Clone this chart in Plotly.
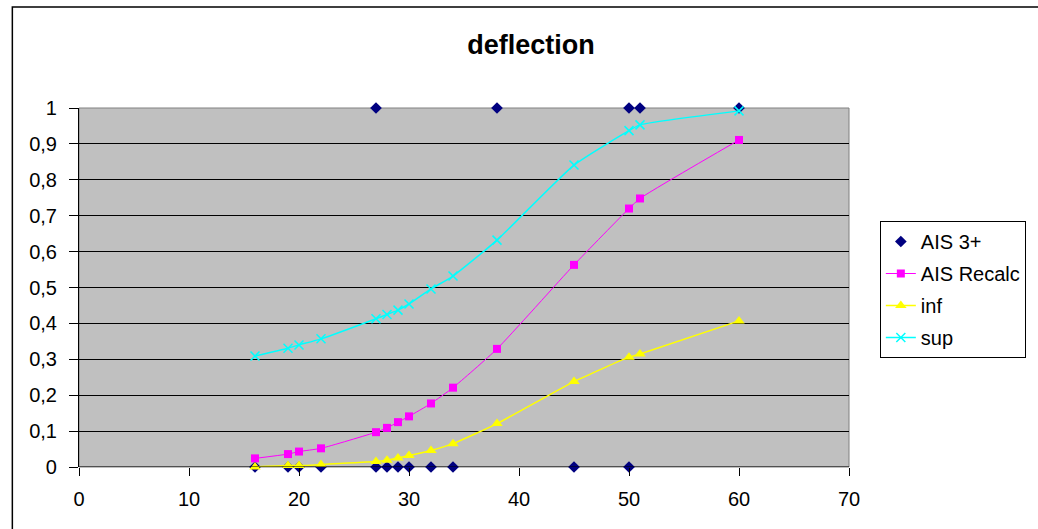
import plotly.graph_objects as go

# Data
ais3_x = [16, 19, 20, 22, 27, 27, 28, 29, 30, 32, 34, 38, 45, 50, 50, 51, 60]
ais3_y = [0, 0, 0, 0, 1, 0, 0, 0, 0, 0, 0, 1, 0, 1, 0, 1, 1]

age = [16, 19, 20, 22, 27, 28, 29, 30, 32, 34, 38, 45, 50, 51, 60]
recalc = [0.024, 0.036, 0.043, 0.052, 0.097, 0.109, 0.125, 0.141, 0.177, 0.221, 0.329, 0.563, 0.72, 0.748, 0.911]
inf = [0.0, 0.004, 0.004, 0.007, 0.015, 0.019, 0.025, 0.032, 0.046, 0.065, 0.121, 0.238, 0.306, 0.315, 0.407]
sup = [0.309, 0.331, 0.34, 0.357, 0.413, 0.425, 0.437, 0.454, 0.496, 0.532, 0.632, 0.841, 0.937, 0.953, 0.992]

x_ticks = [0, 10, 20, 30, 40, 50, 60, 70]

FONT = "Liberation Sans, Arial, sans-serif"

L, R, T, B = 79, 853, 108, 467
PW, PH = R - L, B - T

fig = go.Figure()
fig.add_trace(go.Scatter(x=ais3_x, y=ais3_y, mode="markers", name="AIS 3+", legendgroup="a",
                         marker=dict(symbol="diamond", size=9, color="#000080"),
                         cliponaxis=False))
fig.add_trace(go.Scatter(x=age, y=recalc, mode="lines+markers", name="AIS Recalc", legendgroup="b",
                         line=dict(color="#FF00FF", width=1, shape="spline", smoothing=0.5),
                         marker=dict(symbol="square", size=8, color="#FF00FF"),
                         cliponaxis=False))
fig.add_trace(go.Scatter(x=age, y=inf, mode="lines+markers", name="inf", legendgroup="c",
                         line=dict(color="#FFFF00", width=1.5, shape="spline", smoothing=0.5),
                         marker=dict(symbol="triangle-up", size=10, color="#FFFF00"),
                         cliponaxis=False))
fig.add_trace(go.Scatter(x=age, y=sup, mode="lines+markers", name="sup", legendgroup="d",
                         line=dict(color="#00FFFF", width=1.5, shape="spline", smoothing=0.5),
                         marker=dict(symbol="x-thin", size=9, color="#00FFFF",
                                     line=dict(color="#00FFFF", width=1.5)),
                         cliponaxis=False))

fig.update_layout(
    width=1038, height=529,
    margin=dict(l=L, r=1038 - R, t=T, b=529 - B),
    paper_bgcolor="white",
    plot_bgcolor="#C0C0C0",
    separators=",.",
    font=dict(family=FONT, size=20, color="black"),
    title=dict(text="<b>deflection</b>", x=531 / 1038, xref="container",
               xanchor="center", y=1 - 45 / 529, yanchor="middle",
               font=dict(family=FONT, size=27, color="black")),
    showlegend=True,
    legend=dict(x=(884 - L) / PW, xanchor="left", y=(B - 221) / PH, yanchor="top",
                bgcolor="white", bordercolor="black", borderwidth=1,
                font=dict(family=FONT, size=20), tracegroupgap=3,
                itemwidth=30),
    xaxis=dict(range=[0, 70], tickvals=x_ticks, showgrid=False, zeroline=False,
               showline=False, ticks="outside", ticklen=8, tickcolor="black",
               ticklabelstandoff=6,
               tickfont=dict(family=FONT, size=20)),
    yaxis=dict(range=[0, 1], dtick=0.1, tick0=0, showgrid=True, gridcolor="black",
               gridwidth=1, zeroline=False, showline=True, linecolor="black",
               linewidth=1, ticks="outside", ticklen=9, tickcolor="black",
               ticksuffix="\u2009\u2009",
               tickfont=dict(family=FONT, size=20)),
    shapes=[
        dict(type="rect", xref="paper", yref="paper",
             x0=(12 - L) / PW, x1=1.5, y0=-0.5, y1=(B - 7) / PH,
             line=dict(color="black", width=1.5), fillcolor="rgba(0,0,0,0)", layer="below"),
        dict(type="rect", xref="paper", yref="paper", x0=0, x1=1, y0=0, y1=1,
             line=dict(color="#808080", width=1), fillcolor="rgba(0,0,0,0)", layer="below"),
        dict(type="line", xref="paper", yref="y", x0=0, x1=1, y0=0, y1=0,
             line=dict(color="black", width=1)),
    ],
)

fig.write_html("out.html")
